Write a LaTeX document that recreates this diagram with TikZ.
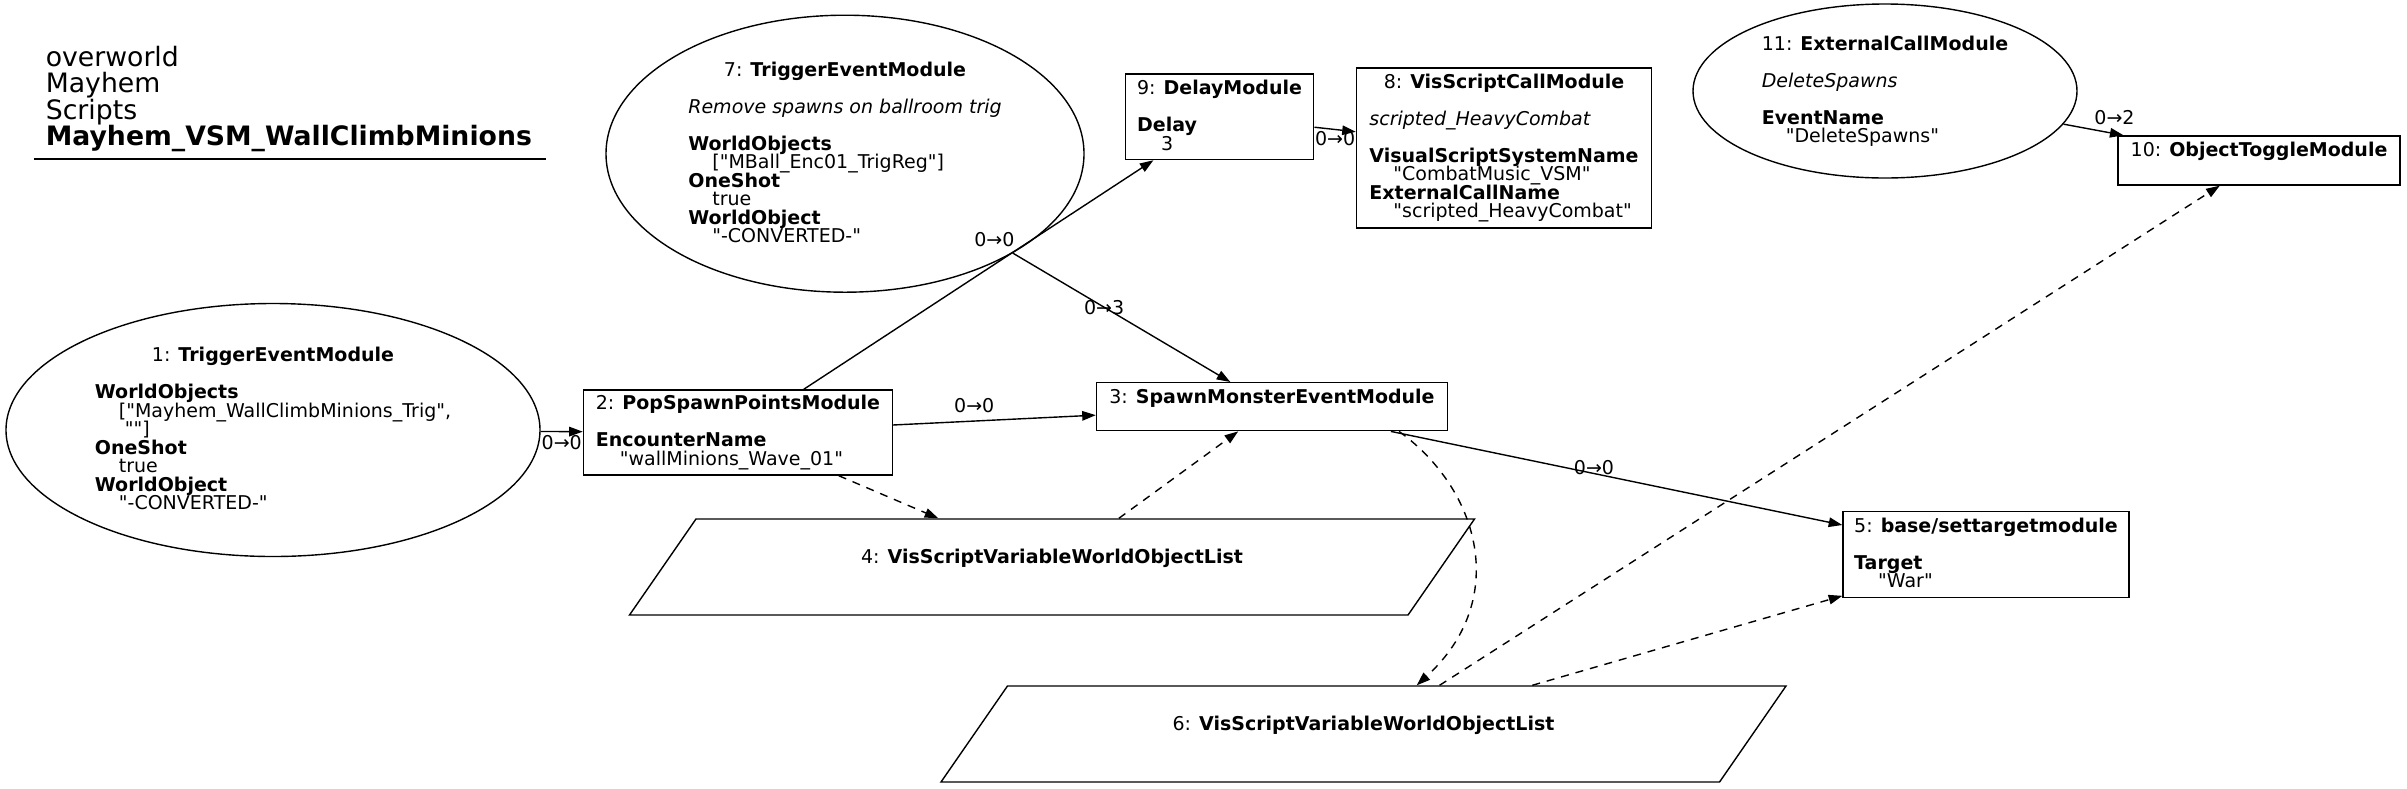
\documentclass[tikz,border=0pt]{standalone}
\usepackage{fontspec}
\setmainfont{DejaVu Sans}[Ligatures=TeXOff]
\usepackage{tikz}
\usetikzlibrary{arrows.meta,shapes.geometric}

\newcommand{\modtext}[1]{\vbox{\baselineskip=18.5pt\lineskiplimit=-\maxdimen\lineskip=0pt%
  \halign{\vrule height 14.8pt depth 3.7pt width 0pt\relax##\hfil\cr#1\crcr}}}
\newcommand{\modhead}[2]{\omit\hfil\vrule height 14.8pt depth 3.7pt width 0pt\relax#1: \textbf{#2}\hfil}
\newcommand{\modval}[1]{\hspace*{24pt}#1}
\newcommand{\titletext}[1]{\vbox{\baselineskip=26.4pt\lineskiplimit=-\maxdimen\lineskip=0pt%
  \halign{##\hfil\cr#1\crcr}}}

\tikzset{
  modfont/.style={font=\fontsize{19}{18.5}\selectfont},
  modellipse/.style={draw, ellipse, inner sep=0pt, line width=1.4pt, modfont},
  modbox/.style={draw, rectangle, inner sep=0pt, line width=1.4pt, modfont},
  modvar/.style={draw, trapezium, trapezium left angle=29.1, trapezium right angle=150.9,
    trapezium stretches body, inner sep=0pt, line width=1.4pt, modfont},
  flow/.style={-{Triangle[length=13.6pt,width=9.5pt]}, line width=1.4pt},
  varflow/.style={flow, dash pattern=on 8pt off 7pt},
  lbl/.style={inner sep=2pt, modfont}
}

\begin{document}
\begin{tikzpicture}[x=1pt,y=-1pt]
\useasboundingbox (0,0) rectangle (2407,788);
%
% title:
\node[anchor=base west, inner sep=0pt, font=\fontsize{26.7}{26.4}\selectfont] (title) at (45.6,145.7)
  {\titletext{overworld\cr Mayhem\cr Scripts\cr \textbf{Mayhem\_VSM\_WallClimbMinions}}};
\draw[line width=1.4pt] (33.7,159) -- (546,159);
%
% node: 1
\node[modellipse, minimum width=534, minimum height=253] (m1) at (273,430)
  {\modtext{\modhead{1}{TriggerEventModule}\cr\cr
  \textbf{WorldObjects}\cr
  \modval{["Mayhem\_WallClimbMinions\_Trig",}\cr
  \modval{\ ""]}\cr
  \textbf{OneShot}\cr
  \modval{true}\cr
  \textbf{WorldObject}\cr
  \modval{"-CONVERTED-"}}};
%
% node: 2
\node[modbox, minimum width=309, minimum height=85] (m2) at (738,432.5)
  {\modtext{\modhead{2}{PopSpawnPointsModule}\cr\cr
  \textbf{EncounterName}\cr
  \modval{"wallMinions\_Wave\_01"}}};
%
% node: 3
\node[modbox, minimum width=351, minimum height=48] (m3) at (1272,406.7)
  {\modtext{\modhead{3}{SpawnMonsterEventModule}\cr\cr}};
%
% node: 4
\node[modvar, minimum width=845, minimum height=96] (m4) at (1052,567)
  {\modtext{\modhead{4}{VisScriptVariableWorldObjectList}\cr\cr}};
%
% node: 5
\node[modbox, minimum width=286, minimum height=85.6] (m5) at (1986,554.5)
  {\modtext{\modhead{5}{base/settargetmodule}\cr\cr
  \textbf{Target}\cr
  \modval{"War"}}};
%
% node: 6
\node[modvar, minimum width=845, minimum height=96] (m6) at (1363.5,734)
  {\modtext{\modhead{6}{VisScriptVariableWorldObjectList}\cr\cr}};
%
% node: 7
\node[modellipse, minimum width=478, minimum height=277] (m7) at (845,153.7)
  {\modtext{\modhead{7}{TriggerEventModule}\cr\cr
  \textit{Remove spawns on ballroom trig}\cr\cr
  \textbf{WorldObjects}\cr
  \modval{["MBall\_Enc01\_TrigReg"]}\cr
  \textbf{OneShot}\cr
  \modval{true}\cr
  \textbf{WorldObject}\cr
  \modval{"-CONVERTED-"}}};
%
% node: 8
\node[modbox, minimum width=295, minimum height=160] (m8) at (1504,148)
  {\modtext{\modhead{8}{VisScriptCallModule}\cr\cr
  \textit{scripted\_HeavyCombat}\cr\cr
  \textbf{VisualScriptSystemName}\cr
  \modval{"CombatMusic\_VSM"}\cr
  \textbf{ExternalCallName}\cr
  \modval{"scripted\_HeavyCombat"}}};
%
% node: 9
\node[modbox, minimum width=188.5, minimum height=85.5] (m9) at (1219.5,116.8)
  {\modtext{\modhead{9}{DelayModule}\cr\cr
  \textbf{Delay}\cr
  \modval{3}}};
%
% node: 10
\node[modbox, minimum width=282, minimum height=49] (m10) at (2259,160.5)
  {\modtext{\modhead{10}{ObjectToggleModule}\cr\cr}};
%
% node: 11
\node[modellipse, minimum width=384, minimum height=174] (m11) at (1885,91)
  {\modtext{\modhead{11}{ExternalCallModule}\cr\cr
  \textit{DeleteSpawns}\cr\cr
  \textbf{EventName}\cr
  \modval{"DeleteSpawns"}}};
%
% edges:
\draw[flow] (m1) -- node[lbl, below=1pt] {0→0} (m2);
\draw[flow] (m2) -- node[lbl, pos=0.61, above left] {0→0} (m9);
\draw[flow] (m9) -- node[lbl, below=-1pt] {0→0} (m8);
\draw[flow] (m2) -- node[lbl, pos=0.4, above=6pt] {0→0} (m3);
\draw[flow] (m7) -- node[lbl, pos=0.42] {0→3} (m3);
\draw[flow] (m11) -- node[lbl, pos=0.85, above=6pt] {0→2} (m10);
\draw[flow] (m3) -- node[lbl, pos=0.45, yshift=6pt] {0→0} (m5);
%
% variable edges:
\draw[varflow] (m2) -- (m4);
\draw[varflow] (m4) -- (m3);
\draw[varflow] (m3.-11.6) .. controls (1480,490) and (1510,600) .. (m6);
\draw[varflow] (m6) -- (m10);
\draw[varflow] (m6) -- (m5);

\end{tikzpicture}
\end{document}
